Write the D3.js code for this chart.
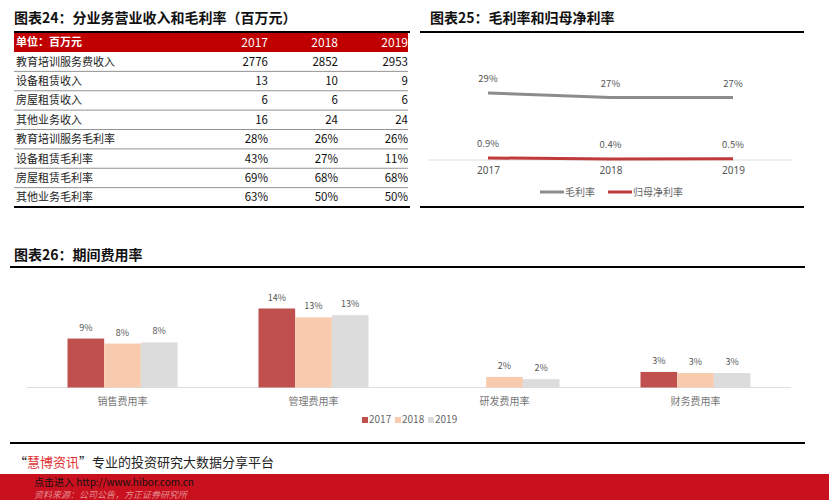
<!DOCTYPE html><html><head><meta charset="utf-8">
<script src="https://cdn.jsdelivr.net/npm/d3@7"></script>
<style>body{margin:0;background:#fff}svg{display:block;font-family:"Noto Sans CJK SC","Noto Sans",sans-serif}</style></head><body>
<svg id="c" width="829" height="500"></svg>
<script>
const tableYears=["2017","2018","2019"];
const tableRows=["教育培训服务费收入","设备租赁收入","房屋租赁收入","其他业务收入","教育培训服务毛利率","设备租赁毛利率","房屋租赁毛利率","其他业务毛利率"];
const tableVals=[["2776","2852","2953"],["13","10","9"],["6","6","6"],["16","24","24"],["28%","26%","26%"],["43%","27%","11%"],["69%","68%","68%"],["63%","50%","50%"]];
const lineYears=["2017","2018","2019"];
const grossMargin=[29,27,27];
const netMargin=[0.9,0.4,0.5];
const grossLabels=["29%","27%","27%"];
const netLabels=["0.9%","0.4%","0.5%"];
const expCats=["销售费用率","管理费用率","研发费用率","财务费用率"];
const expYears=["2017","2018","2019"];
const exp2017=[8.8,14.2,null,2.8];
const exp2018=[7.9,12.6,1.9,2.6];
const exp2019=[8.1,13.0,1.5,2.6];

const svg=d3.select("#c");
// ---- Table (图表24)
svg.append("text").attr("x",14).attr("y",23).attr("font-size",14).attr("font-weight","bold").attr("fill","#111").text("图表24：分业务营业收入和毛利率（百万元）");
svg.append("rect").attr("x",14).attr("y",32).attr("width",394).attr("height",20).attr("fill","#c00000");
svg.append("line").attr("x1",14).attr("x2",410).attr("y1",32).attr("y2",32).attr("stroke","#000").attr("stroke-width",2);
svg.append("text").attr("x",16).attr("y",46).attr("font-size",11).attr("font-weight","bold").attr("fill","#fff").text("单位：百万元");
const colX=d3.scalePoint().domain(tableYears).range([268,408]);
tableYears.forEach(y=>svg.append("text").attr("x",colX(y)).attr("y",47).attr("text-anchor","end").attr("font-size",12).attr("fill","#fff").text(y));
const rowY=d3.scaleBand().domain(tableRows).range([52,207]);
tableRows.forEach((r,i)=>{
  const y0=rowY(r),h=rowY.bandwidth();
  svg.append("text").attr("x",16).attr("y",y0+h/2+4).attr("font-size",11).attr("fill","#222").text(r);
  tableYears.forEach((yr,j)=>svg.append("text").attr("x",colX(yr)).attr("y",y0+h/2+4).attr("text-anchor","end").attr("font-size",11.5).attr("fill","#111").text(tableVals[i][j]));
  if(i<tableRows.length-1) svg.append("line").attr("x1",14).attr("x2",408).attr("y1",y0+h).attr("y2",y0+h).attr("stroke","#777").attr("stroke-width",0.8);
});
svg.append("line").attr("x1",14).attr("x2",410).attr("y1",207).attr("y2",207).attr("stroke","#000").attr("stroke-width",2);

// ---- Line chart (图表25)
svg.append("text").attr("x",430).attr("y",23).attr("font-size",14).attr("font-weight","bold").attr("fill","#111").text("图表25：毛利率和归母净利率");
svg.append("line").attr("x1",420).attr("x2",804).attr("y1",32).attr("y2",32).attr("stroke","#000").attr("stroke-width",2);
svg.append("line").attr("x1",420).attr("x2",804).attr("y1",207).attr("y2",207).attr("stroke","#000").attr("stroke-width",2);
const lx=d3.scalePoint().domain(lineYears).range([488,733]);
const ly=d3.scaleLinear().domain([0,29]).range([160,93]);
svg.append("g").attr("transform","translate(0,160)").call(d3.axisBottom(lx).tickSize(0).tickPadding(7))
  .call(g=>{g.select(".domain").attr("stroke","#ddd").attr("d","M428,0H792");g.selectAll("text").attr("font-size",10).attr("fill","#555").attr("font-family","Noto Sans, sans-serif");});
const line=d3.line().x((d,i)=>lx(lineYears[i])).y(d=>ly(d));
svg.append("path").attr("d",line(grossMargin)).attr("fill","none").attr("stroke","#8c8c8c").attr("stroke-width",3);
svg.append("path").attr("d",line(netMargin)).attr("fill","none").attr("stroke","#c0393b").attr("stroke-width",3);
grossMargin.forEach((v,i)=>svg.append("text").attr("x",lx(lineYears[i])).attr("y",ly(v)-11).attr("text-anchor","middle").attr("font-size",9.5).attr("fill","#555").text(grossLabels[i]));
netMargin.forEach((v,i)=>svg.append("text").attr("x",lx(lineYears[i])).attr("y",ly(v)-11).attr("text-anchor","middle").attr("font-size",9.5).attr("fill","#555").text(netLabels[i]));
const lg=svg.append("g").attr("transform","translate(540,192)");
lg.append("line").attr("x1",0).attr("x2",24).attr("stroke","#8c8c8c").attr("stroke-width",3);
lg.append("text").attr("x",25).attr("y",4).attr("font-size",10).attr("fill","#666").text("毛利率");
lg.append("line").attr("x1",68).attr("x2",92).attr("stroke","#c0393b").attr("stroke-width",3);
lg.append("text").attr("x",93).attr("y",4).attr("font-size",10).attr("fill","#666").text("归母净利率");

// ---- Bar chart (图表26)
svg.append("text").attr("x",14).attr("y",260).attr("font-size",14).attr("font-weight","bold").attr("fill","#111").text("图表26：期间费用率");
svg.append("line").attr("x1",10).attr("x2",805).attr("y1",267).attr("y2",267).attr("stroke","#000").attr("stroke-width",2);
svg.append("line").attr("x1",10).attr("x2",805).attr("y1",443).attr("y2",443).attr("stroke","#000").attr("stroke-width",2);
const bx=d3.scaleBand().domain(expCats).range([27,791]);
const bsub=d3.scaleBand().domain(expYears).range([0,110]);
const by=d3.scaleLinear().domain([0,14.2]).range([387.5,308.5]);
const colors=["#c0504d","#f9cbae","#dcdcdc"];
svg.append("line").attr("x1",27).attr("x2",791).attr("y1",387.5).attr("y2",387.5).attr("stroke","#ddd");
[exp2017,exp2018,exp2019].forEach((ser,k)=>{
  ser.forEach((v,i)=>{
    if(v==null) return;
    const x=bx(expCats[i])+bx.bandwidth()/2-55+bsub(expYears[k]);
    svg.append("rect").attr("x",x).attr("y",by(v)).attr("width",bsub.bandwidth()).attr("height",by(0)-by(v)).attr("fill",colors[k]);
    svg.append("text").attr("x",x+bsub.bandwidth()/2).attr("y",by(v)-8).attr("text-anchor","middle").attr("font-size",9).attr("fill","#555").text(Math.round(v)+"%");
  });
});
expCats.forEach(c=>svg.append("text").attr("x",bx(c)+bx.bandwidth()/2).attr("y",405).attr("text-anchor","middle").attr("font-size",10).attr("fill","#777").text(c));
const bl=svg.append("g").attr("transform","translate(362,423)");
expYears.forEach((y,k)=>{
  bl.append("rect").attr("x",k*33).attr("y",-6).attr("width",6).attr("height",6).attr("fill",colors[k]);
  bl.append("text").attr("x",k*33+7).attr("y",0).attr("font-size",10).attr("fill","#666").text(y);
});

// ---- Footer
const ft=svg.append("text").attr("x",14).attr("y",467).attr("font-size",13).attr("fill","#222");
ft.append("tspan").text("“");ft.append("tspan").attr("fill","#e03030").text("慧博资讯");ft.append("tspan").text("”专业的投资研究大数据分享平台");
svg.append("rect").attr("x",0).attr("y",474).attr("width",829).attr("height",26).attr("fill","#c8101e");
svg.append("text").attr("x",34).attr("y",486).attr("font-size",10).attr("fill","#111").text("点击进入 http://www.hibor.com.cn");
svg.append("text").attr("x",34).attr("y",498).attr("font-size",9).attr("font-style","italic").attr("fill","#f0c0c0").attr("opacity",0.7).text("资料来源：公司公告，方正证券研究所");
</script></body></html>
